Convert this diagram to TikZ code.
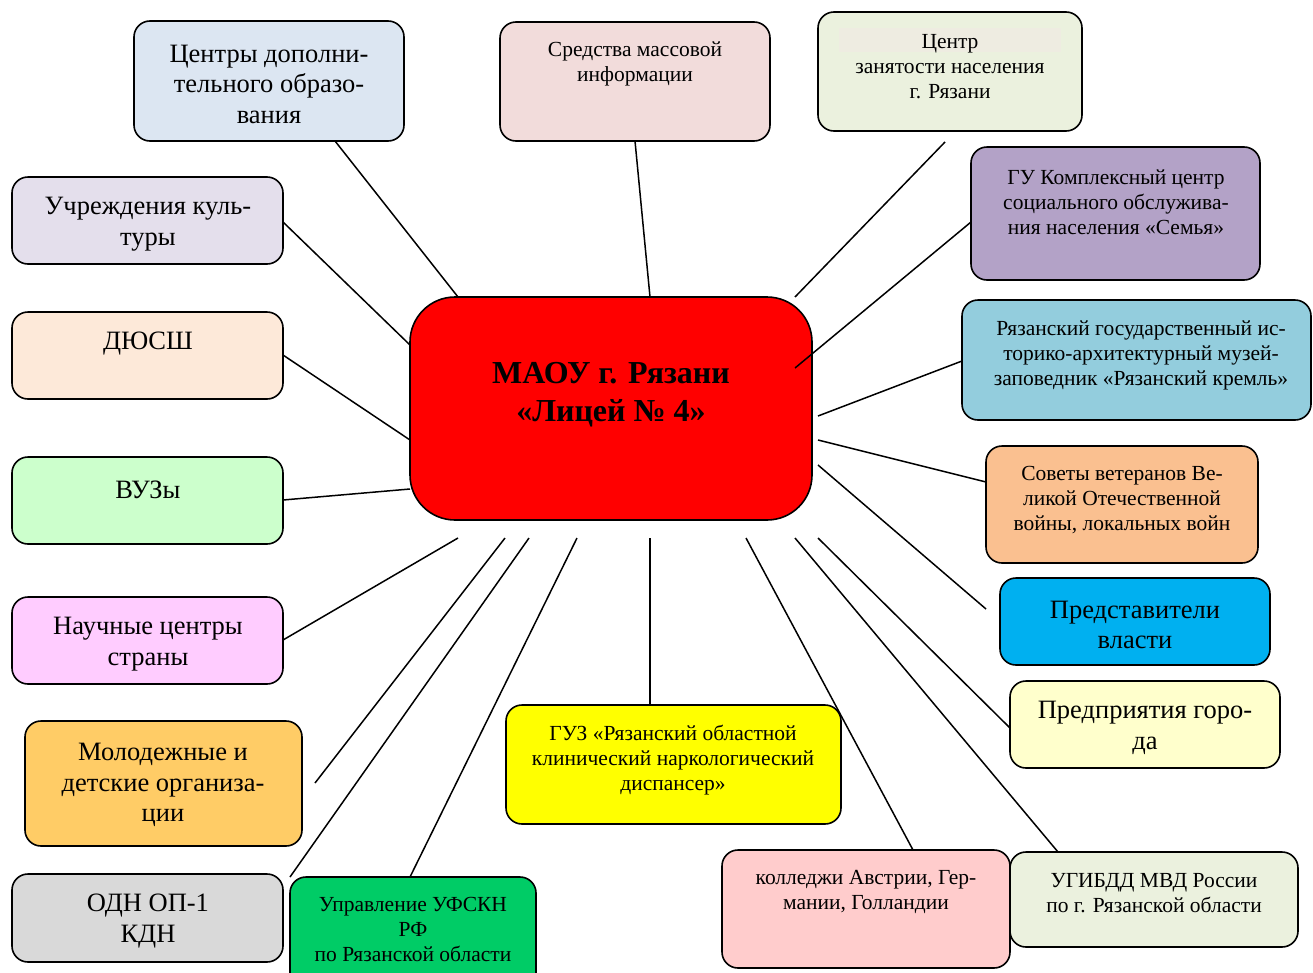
\documentclass[tikz,border=0pt]{standalone}
\usepackage{fontspec}
\setmainfont{Liberation Serif}
\usetikzlibrary{calc}
\definecolor{cA}{HTML}{DCE6F2}
\definecolor{cB}{HTML}{F2DCDB}
\definecolor{cC}{HTML}{EBF1DE}
\definecolor{cCband}{HTML}{EEECE1}
\definecolor{cD}{HTML}{B3A2C7}
\definecolor{cE}{HTML}{93CDDD}
\definecolor{cF}{HTML}{FAC090}
\definecolor{cG}{HTML}{00B0F0}
\definecolor{cH}{HTML}{FFFFCC}
\definecolor{cI}{HTML}{EBF1DE}
\definecolor{cJ}{HTML}{FFCCCC}
\definecolor{cK}{HTML}{FFFF00}
\definecolor{cL}{HTML}{00CC66}
\definecolor{cM}{HTML}{D9D9D9}
\definecolor{cN}{HTML}{FFCC66}
\definecolor{cO}{HTML}{FFCCFF}
\definecolor{cP}{HTML}{CCFFCC}
\definecolor{cQ}{HTML}{FDE9D9}
\definecolor{cR}{HTML}{E4DFEC}
\definecolor{cRed}{HTML}{FF0000}
\tikzset{
 box/.style={draw=black, line width=1.6pt, rounded corners=16pt, inner sep=0pt, outer sep=0pt},
 lnk/.style={draw=black, line width=1.5pt},
 bigtxt/.style={font=\fontsize{26.5}{30.5}\selectfont, align=center, inner sep=0pt},
 smltxt/.style={font=\fontsize{21.5}{25}\selectfont, align=center, inner sep=0pt},
}
\newcommand\bx[6]{\node[box, fill=#6, minimum width={#4-#2}, minimum height={#5-#3}] (#1) at ({(#2+#4)/2},{(#3+#5)/2}) {};}
\begin{document}
\begin{tikzpicture}[x=1pt,y=-1pt]
\useasboundingbox (0,0) rectangle (1313,972);
\clip (0,0) rectangle (1313,972);
\fill[white] (0,0) rectangle (1313,972);

% boxes
\bx{b1}{134}{21}{404}{141}{cA}
\bx{b2}{500}{22}{770}{141}{cB}
\bx{b3}{818}{12}{1082}{131}{cC}
\fill[cCband] (839,28) rectangle (1061,52);
\bx{b4}{971}{147}{1260}{280}{cD}
\bx{b5}{962}{300}{1311}{420}{cE}
\bx{b6}{986}{446}{1258}{563}{cF}
\bx{b7}{1000}{578}{1270}{665}{cG}
\bx{b8}{1010}{681}{1280}{768}{cH}
\bx{b9}{1010}{852}{1298}{947}{cI}
\bx{b10}{722}{850}{1010}{968}{cJ}
\bx{b11}{506}{705}{841}{824}{cK}
\bx{b12}{290}{877}{536}{990}{cL}
\bx{b13}{12}{874}{283}{962}{cM}
\bx{b14}{25}{721}{302}{846}{cN}
\bx{b15}{12}{597}{283}{684}{cO}
\bx{b16}{12}{457}{283}{544}{cP}
\bx{b17}{12}{312}{283}{399}{cQ}
\bx{b18}{12}{177}{283}{264}{cR}
\node[box, rounded corners=45pt, fill=cRed, minimum width=402, minimum height=223] (ctr) at (611,408.5) {};

% free ends
\coordinate (f3) at (945,142);
\coordinate (f3c) at (795,297);
\coordinate (f4c) at (795,368);
\coordinate (f5c) at (818,416);
\coordinate (f6c) at (818,440);
\coordinate (f7) at (986,609);
\coordinate (f7c) at (818,465);
\coordinate (f8c) at (818,538);
\coordinate (f9c) at (795,538);
\coordinate (f10c) at (746,538);
\coordinate (f11c) at (650,538);
\coordinate (f12c) at (577,538);
\coordinate (f13) at (290,877);
\coordinate (f13c) at (529,538);
\coordinate (f14) at (315,783);
\coordinate (f14c) at (505,538);
\coordinate (f15c) at (458,538);

% connectors
\draw[lnk] (b1.south -| 335,0) -- (ctr.north -| 458,0);
\draw[lnk] (b2.south -| 635,0) -- (ctr.north -| 650,0);
\draw[lnk] (f3) -- (f3c);
\draw[lnk] (b4.west |- 0,222) -- (f4c);
\draw[lnk] (b5.west |- 0,361) -- (f5c);
\draw[lnk] (b6.west |- 0,482) -- (f6c);
\draw[lnk] (f7) -- (f7c);
\draw[lnk] (b8.west |- 0,728) -- (f8c);
\draw[lnk] (b9.north -| 1058,0) -- (f9c);
\draw[lnk] (b10.north -| 913,0) -- (f10c);
\draw[lnk] (b11.north -| 650,0) -- (f11c);
\draw[lnk] (b12.north -| 410,0) -- (f12c);
\draw[lnk] (f13) -- (f13c);
\draw[lnk] (f14) -- (f14c);
\draw[lnk] (b15.east |- 0,640) -- (f15c);
\draw[lnk] (b16.east |- 0,500) -- (ctr.west |- 0,489);
\draw[lnk] (b17.east |- 0,355) -- (ctr.west |- 0,440);
\draw[lnk] (b18.east |- 0,222) -- (ctr.west |- 0,345);

% texts
\node[bigtxt] (t1) at (269,84) {Центры дополни-\\тельного образо-\\вания};
\node[smltxt] (t2) at (635,64) {Средства массовой\\информации};
\node[smltxt] (t3) at (950,67) {Центр\\занятости населения\\г. Рязани};
\node[smltxt] (t4) at (1116,202) {ГУ Комплексный центр\\социального обслужива-\\ния населения «Семья»};
\node[smltxt] (t5) at (1141,355) {Рязанский государственный ис-\\торико-архитектурный музей-\\заповедник «Рязанский кремль»};
\node[smltxt] (t6) at (1122,500) {Советы ветеранов Ве-\\ликой Отечественной\\войны, локальных войн};
\node[bigtxt] (t7) at (1135,625) {Представители\\власти};
\node[bigtxt] (t8) at (1145,728) {Предприятия горо-\\да};
\node[smltxt] (t9) at (1154,893) {УГИБДД МВД России\\по г. Рязанской области};
\node[smltxt] (t10) at (866,892) {колледжи Австрии, Гер-\\мании, Голландии};
\node[smltxt] (t11) at (673,760) {ГУЗ «Рязанский областной\\клинический наркологический\\диспансер»};
\node[smltxt] (t12) at (413,929) {Управление УФСКН\\РФ\\по Рязанской области};
\node[bigtxt] (t13) at (148,921) {ОДН ОП-1\\КДН};
\node[bigtxt] (t14) at (163,785) {Молодежные и\\детские организа-\\ции};
\node[bigtxt] (t15) at (148,644) {Научные центры\\страны};
\node[bigtxt] (t16) at (148,490) {ВУЗы};
\node[bigtxt] (t17) at (148,344) {ДЮСШ};
\node[bigtxt] (t18) at (148,224) {Учреждения куль-\\туры};
\node[font=\bfseries\fontsize{32}{38}\selectfont, align=center, inner sep=0pt] (tc) at (611,395) {МАОУ г. Рязани\\«Лицей № 4»};
\end{tikzpicture}
\end{document}
